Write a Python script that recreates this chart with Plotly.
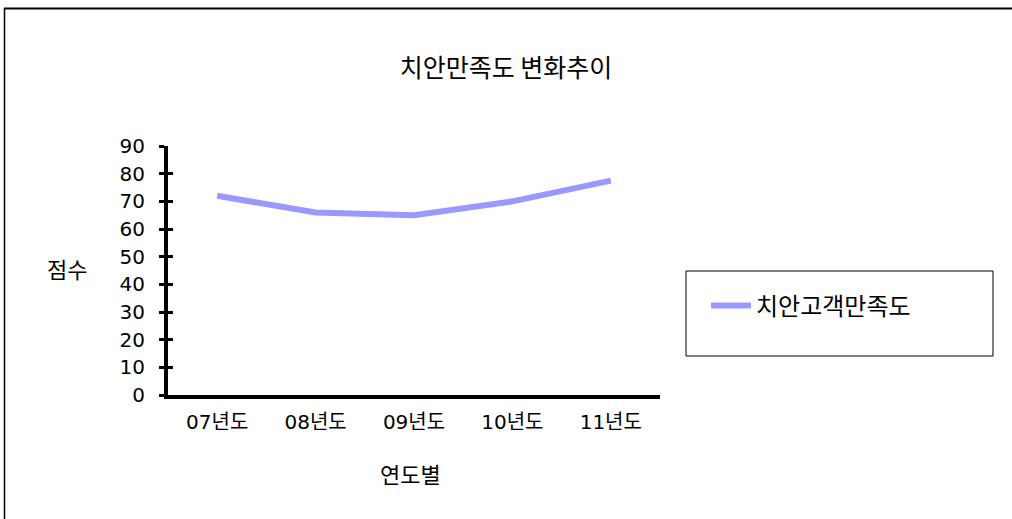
import plotly.graph_objects as go

categories = ["07년도", "08년도", "09년도", "10년도", "11년도"]
satisfaction = [72, 66, 65, 70, 77.5]
series_name = "치안고객만족도"
y_ticks = [0, 10, 20, 30, 40, 50, 60, 70, 80, 90]

W, H = 1012, 519
L, R, T, B = 168, 660, 146, 395

def px(x):
    return (x - L) / (R - L)

def py(y):
    return (B - y) / (B - T)

NUM_FONT = "DejaVu Sans, Noto Sans CJK KR, sans-serif"
KR_FONT = "Noto Sans CJK KR, sans-serif"

fig = go.Figure()
fig.add_trace(go.Scatter(
    x=categories, y=satisfaction, mode="lines", name=series_name,
    line=dict(color="#9999FF", width=6), showlegend=True,
))
# invisible helper trace so the overlay axis (inner half of cross ticks) is drawn
fig.add_trace(go.Scatter(
    x=categories, y=satisfaction, mode="lines", yaxis="y2", showlegend=False,
    line=dict(color="rgba(0,0,0,0)", width=0), hoverinfo="skip",
))

fig.update_layout(
    width=W, height=H,
    margin=dict(l=L, r=W - R, t=T, b=H - B),
    paper_bgcolor="white", plot_bgcolor="white",
    font=dict(family=NUM_FONT, size=20, color="black"),
    title=dict(text="치안만족도 변화추이", x=506 / W, xref="container", xanchor="center",
               y=1 - 68 / H, yref="container", yanchor="middle",
               font=dict(size=25, family=KR_FONT, color="black")),
    showlegend=True,
    legend=dict(x=px(706), y=py(306), xanchor="left", yanchor="middle",
                bgcolor="rgba(0,0,0,0)", borderwidth=0,
                font=dict(size=24, family=KR_FONT), itemwidth=40),
    xaxis=dict(type="category", range=[-0.5, 4.5], showline=True, linecolor="black", linewidth=4,
               ticks="", showgrid=False, zeroline=False, ticklabelstandoff=6,
               tickfont=dict(size=20, family=NUM_FONT)),
    yaxis=dict(range=[0, 90], tickvals=y_ticks, showline=True, linecolor="black",
               linewidth=4, ticks="outside", ticklen=5, tickwidth=3, tickcolor="black",
               showgrid=False, zeroline=False, tickfont=dict(size=20, family=NUM_FONT),
               ticklabelstandoff=10),
    yaxis2=dict(range=[0, 90], tickvals=y_ticks, overlaying="y", side="left", anchor="x",
                showline=False, ticks="inside", ticklen=5, tickwidth=3, tickcolor="black",
                showticklabels=False, showgrid=False, zeroline=False),
    shapes=[
        dict(type="line", xref="paper", yref="paper", x0=px(4), x1=px(1100), y0=py(8.5), y1=py(8.5),
             line=dict(color="black", width=2)),
        dict(type="line", xref="paper", yref="paper", x0=px(4.5), x1=px(4.5), y0=py(8), y1=py(600),
             line=dict(color="black", width=1.5)),
        dict(type="rect", xref="paper", yref="paper", x0=px(686), x1=px(993), y0=py(271), y1=py(356),
             line=dict(color="black", width=1), fillcolor="rgba(0,0,0,0)"),
    ],
    annotations=[
        dict(text="점수", xref="paper", yref="paper", x=px(67), y=py(268), showarrow=False,
             xanchor="center", yanchor="middle", font=dict(size=22, family=KR_FONT)),
        dict(text="연도별", xref="paper", yref="paper", x=px(410), y=py(473), showarrow=False,
             xanchor="center", yanchor="middle", font=dict(size=22, family=KR_FONT)),
    ],
)

fig.write_html("out.html")
